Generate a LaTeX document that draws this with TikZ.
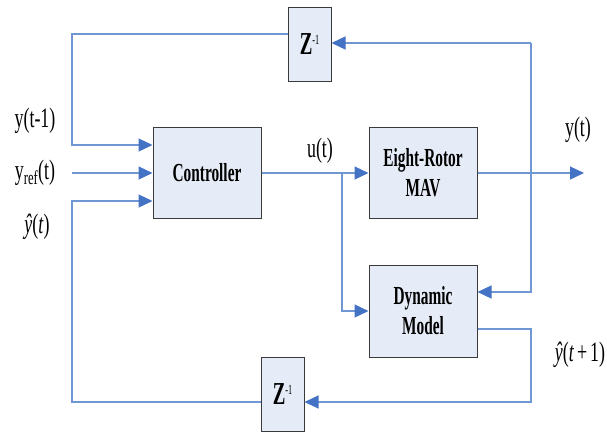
\documentclass[tikz,border=0pt]{standalone}
\usepackage{fontspec}
\usepackage{graphicx}
\setmainfont{Liberation Serif}
\usetikzlibrary{arrows.meta}
\definecolor{linec}{HTML}{6F97D4}
\definecolor{tipc}{HTML}{4472C4}
\definecolor{boxfill}{HTML}{E6ECF7}
\definecolor{boxline}{HTML}{3A3A3A}
\newcommand\sqz[1]{\scalebox{0.59}[1]{#1}}
\newcommand\sqy[1]{\scalebox{0.64}[1]{#1}}
\begin{document}
\begin{tikzpicture}[x=1pt,y=-1pt,
  blockbox/.style={draw=boxline,fill=boxfill,line width=1pt,inner sep=0pt,align=center,
    font=\fontsize{26}{30}\selectfont\bfseries},
  wire/.style={draw=linec,line width=1.2pt},
  arr/.style={wire,-{Triangle[length=14pt,width=13pt,fill=tipc,color=tipc]}},
  lab/.style={font=\fontsize{28}{30}\selectfont,inner sep=0pt}]
\useasboundingbox (0,0) rectangle (607,432);
% blocks
\node[blockbox,minimum width=43pt,minimum height=74pt] (zt) at (309.5,44) {\sqz{\fontsize{32}{32}\selectfont Z\raisebox{10pt}{\fontsize{14}{14}\selectfont\mdseries -1}}};
\node[blockbox,minimum width=108pt,minimum height=91pt] (ctrl) at (207,172.5) {\sqz{Controller}};
\node[blockbox,minimum width=108pt,minimum height=91pt] (mav) at (423,172.5) {\sqz{Eight-Rotor}\\\sqz{MAV}};
\node[blockbox,minimum width=108pt,minimum height=92pt] (dyn) at (423,311) {\sqz{Dynamic}\\\sqz{Model}};
\node[blockbox,minimum width=43pt,minimum height=74pt] (zb) at (282.5,394) {\sqz{\fontsize{32}{32}\selectfont Z\raisebox{10pt}{\fontsize{14}{14}\selectfont\mdseries -1}}};
% labels
\node[lab] (l1) at (35,121) {\sqy{y(t-1)}};
\node[lab] (l2) at (35,173) {\sqy{y\textsubscript{ref}(t)}};
\node[lab] (l3) at (37,227) {\sqy{\textit{\^y}(\textit{t})}};
\node[lab] (lu) at (320,151) {\sqy{u(t)}};
\node[lab] (ly) at (578,130) {\sqy{y(t)}};
\node[lab] (ly1) at (580,355) {\sqy{\textit{\^y}(\textit{t}\,+\,1)}};
% coordinates
\coordinate (tl) at (72,34);
\coordinate (ml) at (72,173);
\coordinate (bl) at (72,402);
\coordinate (br) at (531,402);
\coordinate (tr) at (531,43);
\coordinate (dr) at (531,292);
\coordinate (br2) at (531,329);
\coordinate (bp) at (342,173);
\coordinate (yo) at (584,172.5);
% connectors
\draw[arr] (zt.west |- tl) -- (tl) -- (72,145) -- (ctrl.west |- 0,145);
\draw[arr] (ml) -- (ctrl.west |- ml);
\draw[arr] (zb.west |- bl) -- (bl) -- (72,201) -- (ctrl.west |- 0,201);
\draw[arr] (ctrl.east |- bp) -- (mav.west |- bp);
\draw[arr] (bp) -- (342,311) -- (dyn.west |- 0,311);
\draw[arr] (mav.east |- bp) -- (yo |- bp);
\draw[arr] (tr) -- (zt.east |- tr);
\draw[arr] (tr) -- (dr) -- (dyn.east |- dr);
\draw[arr] (dyn.east |- br2) -- (br2) -- (br) -- (zb.east |- br);
\end{tikzpicture}
\end{document}
